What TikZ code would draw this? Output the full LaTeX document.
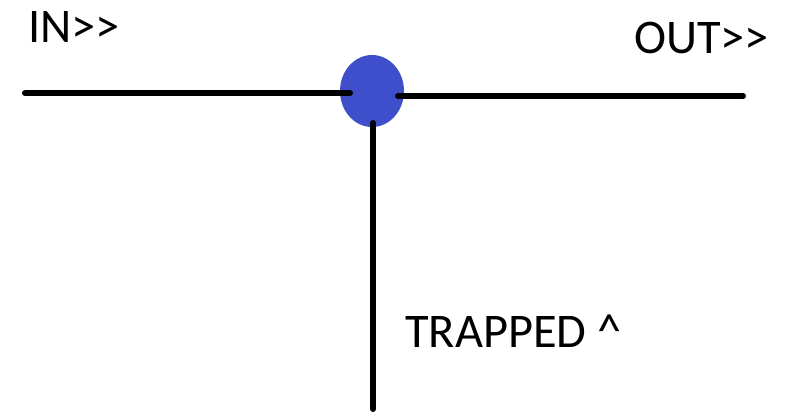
\documentclass[tikz,border=0pt]{standalone}
\usepackage{fontspec}
\setmainfont{Carlito}
\usetikzlibrary{shapes.geometric}
\definecolor{dotblue}{RGB}{63,79,204}
\begin{document}
\begin{tikzpicture}[x=0.02cm, y=-0.02cm,
  wire/.style={line width=3.4pt, line cap=round},
  lbl/.style={anchor=base west, inner sep=0pt, font=\fontsize{27.5}{33}\selectfont}]
\useasboundingbox (0,0) rectangle (795,413);
\node[ellipse, fill=dotblue, minimum width=1.28cm, minimum height=1.44cm, inner sep=0pt] (dot) at (372,91) {};
\coordinate (inStart) at (25,93);
\coordinate (inEnd) at (350,93);
\coordinate (outStart) at (398,96);
\coordinate (outEnd) at (743,96);
\coordinate (trapStart) at (373,123);
\coordinate (trapEnd) at (373,409);

\draw[wire] (inStart) -- (inEnd);
\draw[wire] (outStart) -- (outEnd);
\draw[wire] (trapStart) -- (trapEnd);

\node[lbl] (in) at (28,42) {IN>{}>};
\node[lbl] (out) at (634,53) {OUT>{}>};
\node[lbl] (trapped) at (405,347) {TRAPPED \textasciicircum};
\end{tikzpicture}
\end{document}
